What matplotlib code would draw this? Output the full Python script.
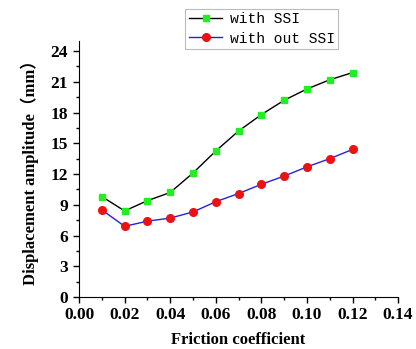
import matplotlib
matplotlib.use("Agg")
import matplotlib.pyplot as plt
from matplotlib.ticker import MultipleLocator

friction = [0.01, 0.02, 0.03, 0.04, 0.05, 0.06, 0.07, 0.08, 0.09, 0.10, 0.11, 0.12]
with_ssi = [9.8, 8.4, 9.4, 10.2, 12.1, 14.25, 16.2, 17.8, 19.2, 20.3, 21.2, 21.9]
without_ssi = [8.5, 6.9, 7.4, 7.7, 8.3, 9.3, 10.1, 11.0, 11.8, 12.7, 13.5, 14.4]
xtick_labels = ['0.00', '0.02', '0.04', '0.06', '0.08', '0.10', '0.12', '0.14']

fig = plt.figure(figsize=(4.16, 3.49), dpi=100)
ax = fig.add_axes([0.19, 0.149, 0.767, 0.734])

ax.plot(friction, with_ssi, color='black', lw=1, marker='s', ms=5,
        mfc='#22ee22', mec='#22ee22', label='with SSI')
ax.plot(friction, without_ssi, color='#2222dd', lw=1, marker='o', ms=5.5,
        mfc='#ee1111', mec='#ee1111', label='with out SSI')

ax.set_xlim(0, 0.14)
ax.set_ylim(0, 25)
ax.xaxis.set_minor_locator(MultipleLocator(0.01))
ax.yaxis.set_major_locator(MultipleLocator(3))
ax.yaxis.set_minor_locator(MultipleLocator(1.5))
ax.spines['top'].set_visible(False)
ax.spines['right'].set_visible(False)
ax.tick_params(which='major', direction='out', length=4, width=1)
ax.tick_params(axis='x', which='major', pad=3)
ax.tick_params(axis='y', which='major', pad=4)
ax.tick_params(which='minor', direction='out', length=2.5, width=1)
ax.set_xticks([i * 0.02 for i in range(len(xtick_labels))])
ax.set_xticklabels(xtick_labels)
for lab in ax.get_xticklabels() + ax.get_yticklabels():
    lab.set_fontfamily('Liberation Serif')
    lab.set_fontweight('bold')
    lab.set_fontsize(12.5)

ax.set_xlabel('Friction coefficient', fontfamily='Liberation Serif',
              fontweight='bold', fontsize=12, labelpad=7)
ax.set_ylabel('Displacement amplitude（mm）',
              fontfamily=['Liberation Serif', 'Noto Sans CJK SC'],
              fontweight='bold', fontsize=12, labelpad=8)

leg = ax.legend(loc='upper left', bbox_to_anchor=(0.333, 1.125),
                prop={'family': 'Liberation Mono', 'size': 10.5},
                frameon=True, fancybox=False, edgecolor='#aaaaaa',
                handlelength=2.3, borderpad=0.25, labelspacing=0.35,
                handletextpad=0.5, borderaxespad=0)
leg.get_frame().set_linewidth(0.8)

fig.savefig('out.png', dpi=100)
